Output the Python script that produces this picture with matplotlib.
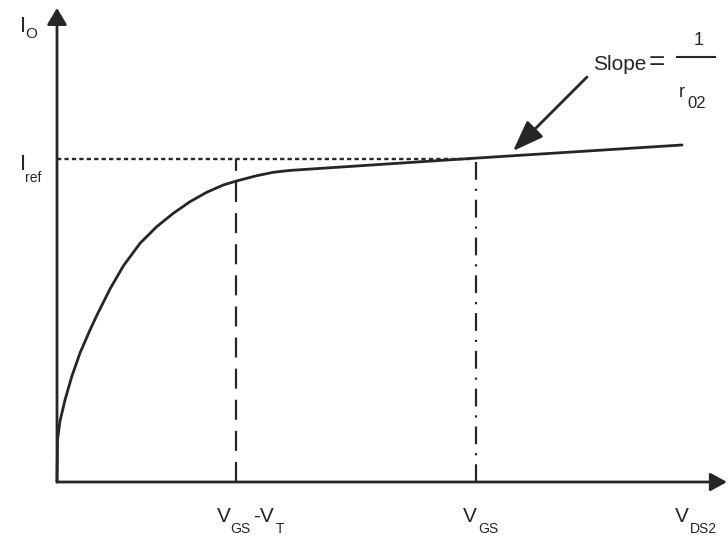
import matplotlib.pyplot as plt

# Curva I_O vs V_DS2 (coordenadas, origen en la esquina de los ejes)
v_ds = [0, 0.3, 0.5, 3, 8, 14.7, 23, 33, 40, 53, 66.3, 83, 99.7, 116.3, 133, 149.7,
        166.3, 178.7, 199.7, 216.3, 233, 416, 625]
i_o = [0, 20, 42, 61, 82, 105.3, 129, 152, 167, 193, 216, 238.7, 255.3, 268.7,
       280.3, 289.7, 297, 300.8, 306.3, 309.7, 311.6, 323.7, 337]

# Niveles de referencia
i_ref = 323
v_gs_vt = 179
v_gs = 419
x_max = 670
y_max = 474

tinta = "#262626"
fuente = "Liberation Sans"

fig = plt.figure(figsize=(7.28, 5.36), dpi=100)
ax = fig.add_axes([0, 0, 1, 1])
ax.set_xlim(-57, 671)
ax.set_ylim(-54, 482)
ax.axis("off")

# Ejes con flechas
ax.annotate("", xy=(0, y_max), xytext=(0, 0),
            arrowprops=dict(arrowstyle="-|>,head_length=1.0,head_width=0.6",
                            lw=2, color=tinta, shrinkA=0, shrinkB=0))
ax.annotate("", xy=(x_max, 0), xytext=(0, 0),
            arrowprops=dict(arrowstyle="-|>,head_length=1.0,head_width=0.55",
                            lw=2, color=tinta, shrinkA=0, shrinkB=0))

# Curva principal
ax.plot(v_ds, i_o, color=tinta, lw=2, solid_capstyle="round", solid_joinstyle="round")

# Lineas de referencia
ax.plot([0, v_gs - 3], [i_ref, i_ref], color=tinta, lw=1.7, dashes=(1.8, 1.35))
ax.plot([v_gs_vt, v_gs_vt], [0, i_ref], color=tinta, lw=1.6, dashes=(9, 5))
ax.plot([v_gs, v_gs], [0, i_ref], color=tinta, lw=1.6, dashes=(8, 4, 1, 4))

# Flecha de la pendiente
ax.annotate("", xy=(456, 331), xytext=(530, 405),
            arrowprops=dict(arrowstyle="-|>,head_length=1.9,head_width=0.7",
                            lw=2, color=tinta, shrinkA=0, shrinkB=0))

# Textos
def texto(x, y, s, size=15):
    ax.text(x, y, s, fontsize=size, family=fuente, color=tinta, ha="left", va="baseline")

texto(-37, 450, "I", 16)
texto(-32, 444, "O", 11)
texto(-37, 312, "I", 16)
texto(-32, 300, "ref", 10)

texto(160, -40, "V")
texto(173, -51, "GS", 10)
texto(196, -40, "-V")
texto(219, -51, "T", 10)

texto(406, -40, "V")
texto(421, -51, "GS", 10)

texto(618, -40, "V")
texto(633, -51, "DS2", 10)

texto(536, 412, "Slope")
texto(592, 412, "=", 20)
ax.plot([620, 658], [425, 425], color=tinta, lw=1.5)
texto(637, 437, "1", 13)
texto(622, 385, "r", 13)
texto(630, 374, "02", 12)

fig.savefig("out.png", dpi=100)
